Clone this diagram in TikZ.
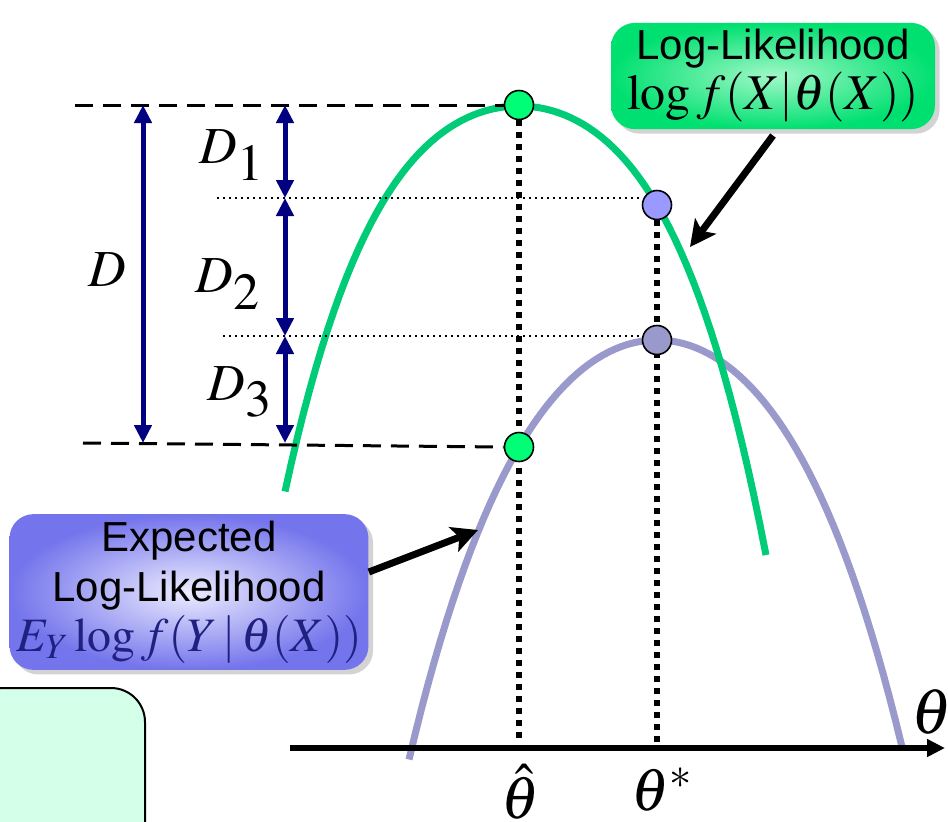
\documentclass[tikz,border=0pt]{standalone}
\usepackage{mathptmx}
\usepackage{fontspec}
\setmainfont{Liberation Serif}
\setsansfont{Liberation Sans}
\usetikzlibrary{arrows.meta, positioning, shadows}

\definecolor{llgreen}{HTML}{00CC77}
\definecolor{elpurple}{HTML}{9999CC}
\definecolor{dotgreen}{HTML}{00FF77}
\definecolor{dotblue}{HTML}{9999FF}
\definecolor{spannavy}{HTML}{000080}
\definecolor{formnavy}{HTML}{202080}
\definecolor{boxgreen}{HTML}{00E070}
\definecolor{boxgreenlight}{HTML}{A0F8C8}
\definecolor{boxpurple}{HTML}{7474EC}
\definecolor{boxpurplelight}{HTML}{ECECFF}
\definecolor{mint}{HTML}{D4FFE8}

\pgfdeclarelayer{back}
\pgfsetlayers{back,main}

\begin{document}
\begin{tikzpicture}[
    x=0.5pt, y=-0.5pt,
    every node/.style={font=\fontsize{26}{30}\selectfont},
    curveline/.style={line width=3.5pt},
    marker/.style={circle, draw, line width=0.8pt, minimum size=14.5pt, inner sep=0pt},
    level/.style={line width=1.5pt, dash pattern=on 9pt off 5pt},
    guide/.style={line width=1pt, dash pattern=on 1pt off 2pt},
    drop/.style={line width=3pt, dash pattern=on 3pt off 3pt},
    span/.style={{Triangle[length=9pt,width=8.5pt]}-{Triangle[length=9pt,width=8.5pt]}, spannavy, line width=2.5pt},
    pointer/.style={-{Stealth[length=13pt,width=13pt,inset=3pt]}, line width=3.5pt},
    callout/.style={rounded corners=12pt, align=center, drop shadow={opacity=0.35},
        font=\sffamily\fontsize{21}{25}\selectfont},
]
\useasboundingbox (0,0) rectangle (948,821);

% --- Corner box (cut off) ---
\draw[fill=mint, line width=1pt, rounded corners=17pt] (-30,688) rectangle (145,880);

% --- Axis ---
\coordinate (axL) at (290,748);
\coordinate (axR) at (945,748);
\draw[-{Triangle[length=9pt,width=8.5pt]}, line width=3pt] (axL) -- (axR);
\node[font=\fontsize{32}{32}\selectfont] (thlab) at (932,712) {$\theta$};

% --- Points ---
\node[marker, fill=dotgreen] (mle) at (519,105) {};
\node[marker, fill=dotblue] (mleX) at (657,205) {};
\node[marker, fill=elpurple] (best) at (657,340) {};
\node[marker, fill=dotgreen] (mleY) at (519,447) {};

% --- Curves and levels, behind the points ---
\begin{pgfonlayer}{back}
\draw[curveline, elpurple] plot[domain=-2.48:2.45, samples=80]
    ({657+100*\x}, {340+50.8*\x*\x+2.83*\x*\x*\x*\x});
\draw[curveline, llgreen] plot[domain=-2.34:2.47, samples=80]
    ({519+100*\x}, {106+42.2*\x*\x+5.15*\x*\x*\x*\x});
\coordinate (topL) at (75,105);
\coordinate (botL) at (83,443);
\coordinate (g1) at (217,198);
\coordinate (g2) at (223,336);
\draw[level] (topL) -- (mle.west);
\draw[level] (botL) -- (mleY.west);
\draw[guide] (g1) -- (g1 -| mleX.west);
\draw[guide] (g2) -- (g2 -| best.west);
\draw[drop] (mle.south) -- ([yshift=3pt]mle |- axL);
\draw[drop] (mleX.south) -- ([yshift=3pt]mleX |- axL);
\end{pgfonlayer}

% --- Distances ---
\coordinate (sTop) at (143,105);
\coordinate (sBot) at (143,443);
\coordinate (s0) at (285,105);
\coordinate (s1) at (285,198);
\coordinate (s2) at (285,336);
\coordinate (s3) at (285,443);
\draw[span] (sTop) -- (sBot);
\draw[span] (s0) -- (s1);
\draw[span] (s1) -- (s2);
\draw[span] (s2) -- (s3);
\node (dlab) at (107,270) {$D$};
\node (d1lab) at (232,155) {$D_{\textstyle 1}$};
\node (d2lab) at (228,284) {$D_{\textstyle 2}$};
\node (d3lab) at (240,392) {$D_{\textstyle 3}$};

% --- Estimates ---
\node[font=\fontsize{30}{30}\selectfont] (hatlab) at (521,792) {$\hat{\theta}$};
\node[font=\fontsize{30}{30}\selectfont] (starlab) at (662,790) {$\theta^{*}$};

% --- Callouts ---
\node[callout, shade, inner color=boxgreenlight, outer color=boxgreen,
    minimum width=162pt, minimum height=51.5pt] (llbox) at (773,76)
    {Log-Likelihood\\{\rmfamily\fontsize{25}{25}\selectfont$\log f(X|\theta(X))$}};
\node[callout, shade, inner color=boxpurplelight, outer color=boxpurple,
    minimum width=173pt, minimum height=77.5pt] (elbox) at (189,592)
    {Expected\\Log-Likelihood\\{\rmfamily\color{formnavy}\fontsize{24}{24}\selectfont$E_Y \log f(Y\,|\,\theta(X))$}};

% --- Pointers ---
\coordinate (tipG) at (690,247);
\coordinate (tipP) at (478,530);
\draw[pointer] ([yshift=-3pt]llbox.south) -- (tipG);
\draw[pointer] ([yshift=10pt]elbox.east) -- (tipP);

\end{tikzpicture}
\end{document}
